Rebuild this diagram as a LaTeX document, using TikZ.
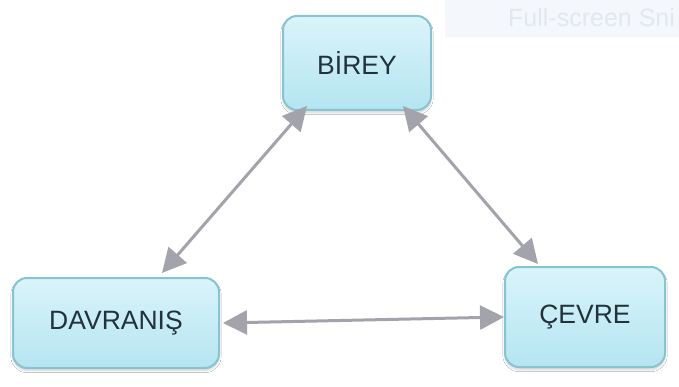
\documentclass[tikz,border=0pt]{standalone}
\usepackage{fontspec}
\setmainfont{Liberation Sans}
\usetikzlibrary{arrows.meta,shadows.blur}
\definecolor{boxtop}{HTML}{DAF4FA}
\definecolor{boxbot}{HTML}{B4E5F1}
\definecolor{boxedge}{HTML}{86C4D2}
\definecolor{labeltext}{HTML}{22323A}
\definecolor{linkgray}{HTML}{A3A3AB}
\definecolor{snipbg}{HTML}{F4F7FB}
\definecolor{sniptext}{HTML}{E2E8EE}
\begin{document}
\begin{tikzpicture}[x=1pt,y=-1pt,
  conceptbox/.style={rounded corners=14pt, draw=boxedge, line width=2pt,
    top color=boxtop, bottom color=boxbot, text=labeltext,
    font=\fontsize{26.5}{30}\selectfont, align=center, inner sep=0pt,
    blur shadow={shadow xshift=0pt, shadow yshift=-2.5pt, shadow blur steps=6, shadow opacity=18}},
  link/.style={draw=linkgray, line width=3pt,
    {Triangle[length=24pt,width=24pt]}-{Triangle[length=24pt,width=24pt]}}]
  \useasboundingbox (0,0) rectangle (679,387);
  \fill[white] (0,0) rectangle (679,387);

  % snipping-tool banner in the top right corner
  \fill[snipbg] (445,0) rectangle (679,37);
  \node[anchor=west, text=sniptext, font=\fontsize{25}{28}\selectfont, inner sep=0pt] (snip) at (508,18) {Full-screen Sni};

  % concept boxes
  \node[conceptbox, minimum width=148pt, minimum height=94pt] (birey) at (357,63) {BİREY};
  \node[conceptbox, minimum width=206pt, minimum height=90pt] (davranis) at (116,323) {DAVRANIŞ};
  \node[conceptbox, minimum width=160pt, minimum height=100pt] (cevre) at (585,317) {ÇEVRE};

  % two-way links between the concepts
  \draw[link] ([xshift=46pt,yshift=4pt]davranis.north) -- ([xshift=-50pt,yshift=5pt]birey.south);
  \draw[link] ([xshift=46pt,yshift=5pt]birey.south) -- ([xshift=-47pt,yshift=2pt]cevre.north);
  \draw[link] ([xshift=3pt]davranis.east) -- (cevre.west);
\end{tikzpicture}
\end{document}
